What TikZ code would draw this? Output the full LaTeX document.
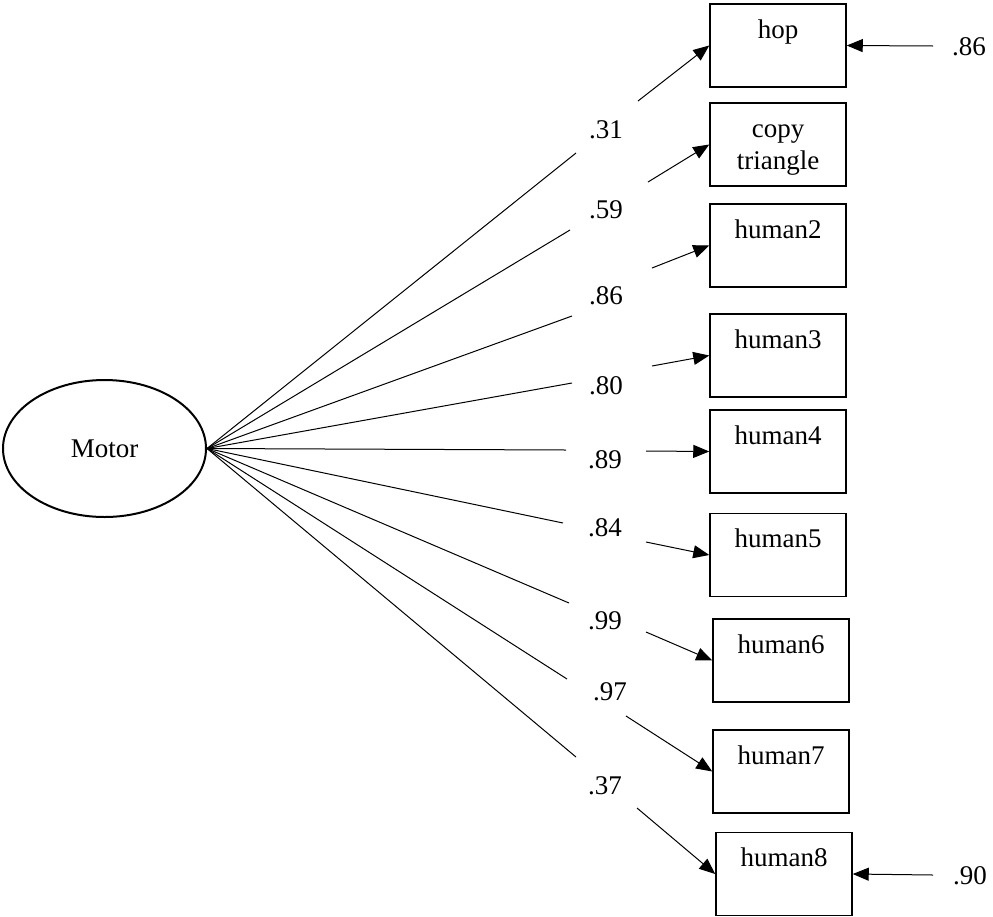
\documentclass[tikz,border=0pt]{standalone}
\usepackage{fontspec}
\setmainfont{Liberation Serif}
\usetikzlibrary{shapes.geometric,arrows.meta}
\begin{document}
\begin{tikzpicture}[x=1pt,y=-1pt,
  every node/.style={font=\fontsize{27}{32}\selectfont, inner sep=0pt},
  obs/.style={draw, line width=1.5pt, minimum width=136pt, minimum height=83pt},
  lat/.style={draw, ellipse, line width=2pt, minimum width=203pt, minimum height=137pt},
  load/.style={line width=1pt},
  arr/.style={line width=1pt, -{Triangle[length=16pt,width=13pt]}},
  boxtext/.style={anchor=base}
]
\useasboundingbox (0,0) rectangle (993,916);

% latent variable
\node[lat] (motor) at (104.5,448.5) {Motor};

% observed variables
\node[obs] (hop)  at (778,45.5)  {};
\node[obs] (copy) at (778,144.5) {};
\node[obs] (h2)   at (778,245.5) {};
\node[obs] (h3)   at (778,355.5) {};
\node[obs] (h4)   at (778,451.5) {};
\node[obs] (h5)   at (778,555)   {};
\node[obs] (h6)   at (781,660.5) {};
\node[obs] (h7)   at (781,771.5) {};
\node[obs] (h8)   at (784,874)   {};

\node[boxtext] (hopT)  at ([yshift=-35pt]hop.north) {hop};
\node[boxtext] (copyT) at ([yshift=-35pt]copy.north) {copy};
\node[boxtext] (copyT2) at ([yshift=-67pt]copy.north) {triangle};
\node[boxtext] (h2T) at ([yshift=-35pt]h2.north) {human2};
\node[boxtext] (h3T) at ([yshift=-35pt]h3.north) {human3};
\node[boxtext] (h4T) at ([yshift=-35pt]h4.north) {human4};
\node[boxtext] (h5T) at ([yshift=-35pt]h5.north) {human5};
\node[boxtext] (h6T) at ([yshift=-35pt]h6.north) {human6};
\node[boxtext] (h7T) at ([yshift=-35pt]h7.north) {human7};
\node[boxtext] (h8T) at ([yshift=-35pt]h8.north) {human8};

% loading labels
\node (l1) at (606,130) {.31};
\node (l2) at (606,210) {.59};
\node (l3) at (606,296) {.86};
\node (l4) at (606,386) {.80};
\node (l5) at (605,460) {.89};
\node (l6) at (605,528) {.84};
\node (l7) at (605,621) {.99};
\node (l8) at (610,692) {.97};
\node (l9) at (605,786) {.37};
\node (r1T) at (969,47) {.86};
\node (r2T) at (970,876) {.90};

% line ends / arrow starts
\coordinate (e1) at (576,153); \coordinate (s1) at (638,101);
\coordinate (e2) at (570,230); \coordinate (s2) at (648,182);
\coordinate (e3) at (572,316); \coordinate (s3) at (652,268);
\coordinate (e4) at (572,383); \coordinate (s4) at (652,366);
\coordinate (e5) at (566,450); \coordinate (s5) at (646,451);
\coordinate (e6) at (563,523); \coordinate (s6) at (646,542);
\coordinate (e7) at (569,603); \coordinate (s7) at (646,632);
\coordinate (e8) at (567,679); \coordinate (s8) at (626,716);
\coordinate (e9) at (576,757); \coordinate (s9) at (637,808);
\coordinate (r1) at (933,46);  \coordinate (r2) at (933,875);

\foreach \e in {e1,e2,e3,e4,e5,e6,e7,e8,e9}
  \draw[load] (motor.east) -- (\e);

\draw[arr] (s1) -- (hop.west);
\draw[arr] (s2) -- (copy.west);
\draw[arr] (s3) -- (h2.west);
\draw[arr] (s4) -- (h3.west);
\draw[arr] (s5) -- (h4.west);
\draw[arr] (s6) -- (h5.west);
\draw[arr] (s7) -- (h6.west);
\draw[arr] (s8) -- (h7.west);
\draw[arr] (s9) -- (h8.west);

\draw[arr] (r1) -- (hop.east);
\draw[arr] (r2) -- (h8.east);
\end{tikzpicture}
\end{document}
